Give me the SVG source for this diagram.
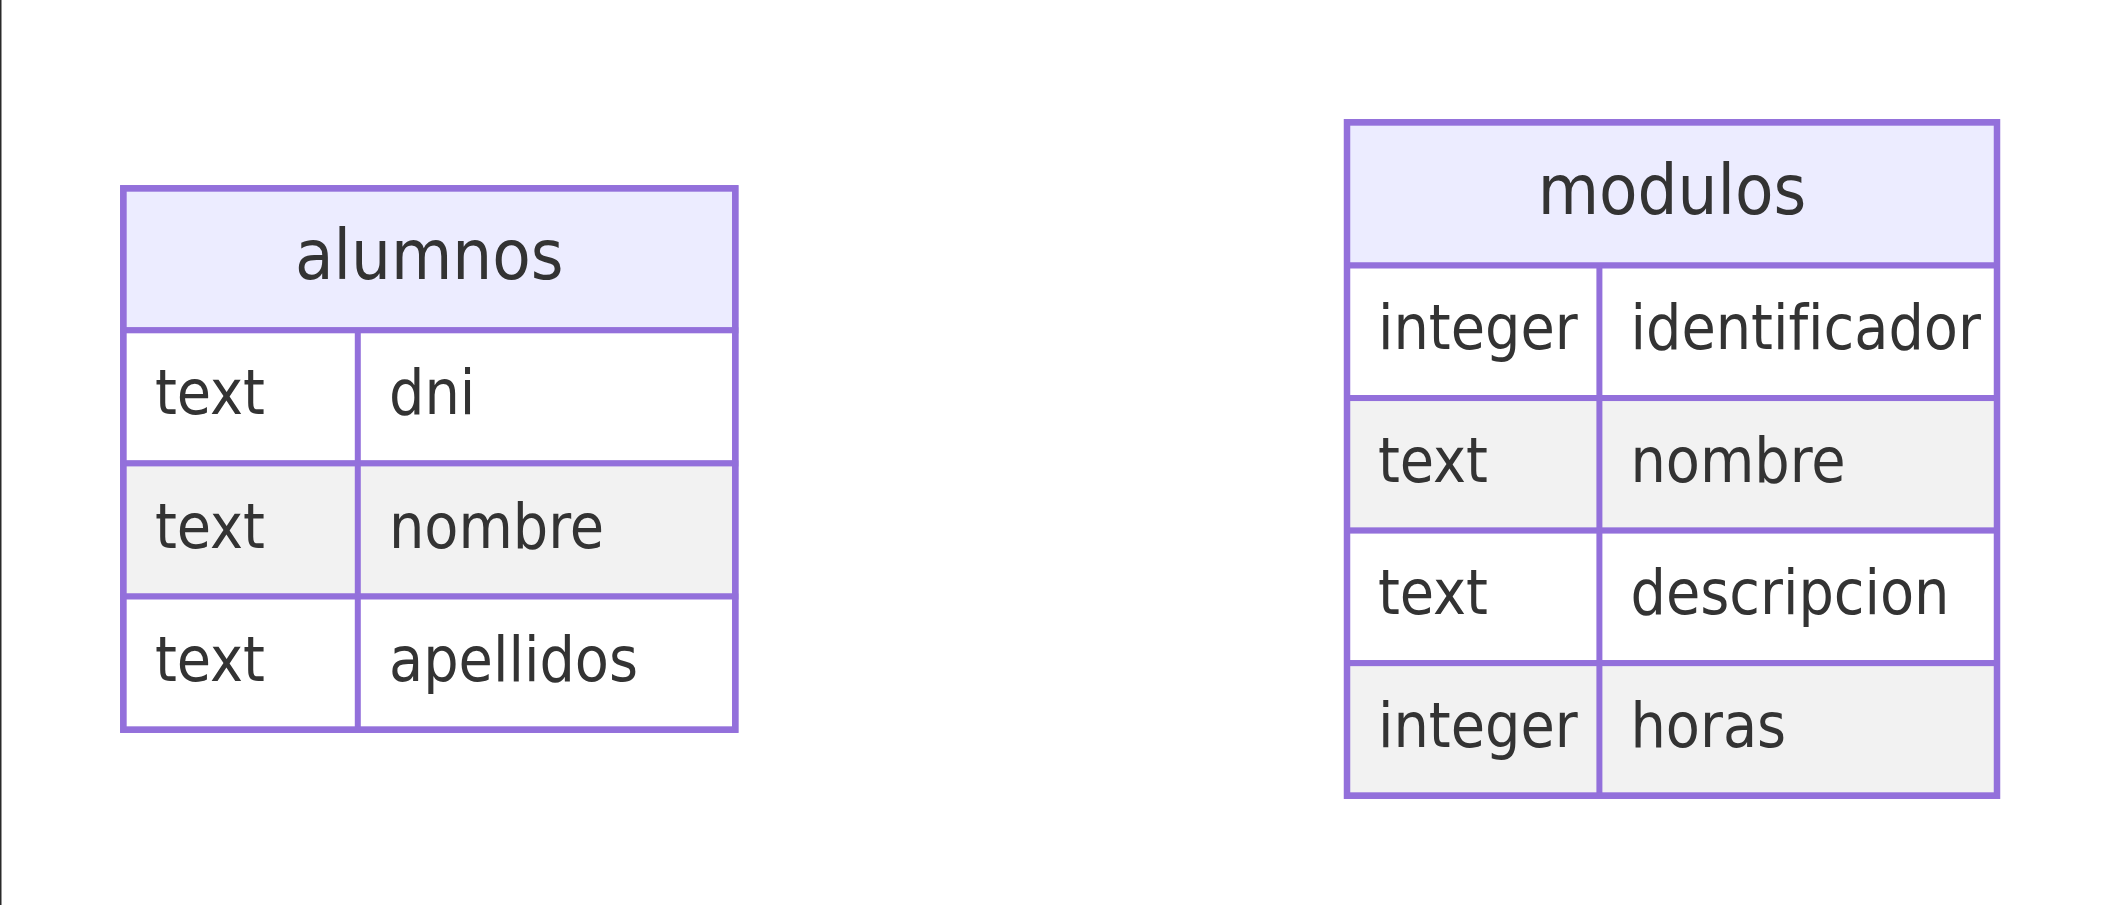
<svg xmlns="http://www.w3.org/2000/svg" width="2112" height="905" viewBox="0 0 2112 905">
<style>
.bg{fill:#ffffff}
.hdr{fill:#ECECFF;stroke:#9370DB;stroke-width:6}
.odd{fill:#ffffff;stroke:#9370DB;stroke-width:6}
.even{fill:#F2F2F2;stroke:#9370DB;stroke-width:6}
.div{stroke:#9370DB;stroke-width:6}
.outer{fill:none;stroke:#9370DB;stroke-width:6.5}
.t{font-family:"DejaVu Sans Condensed","DejaVu Sans",sans-serif;font-stretch:condensed;fill:#333333;font-variant-ligatures:none}
.h{font-size:70px;text-anchor:middle}
.a{font-size:62px}
</style>
<rect class="bg" x="0" y="0" width="2112" height="905"/>
<rect x="0" y="0" width="1.5" height="905" fill="#2a2a2a"/>
<g id="connectors"></g>
<g id="alumnos">
<rect class="hdr" x="123.3" y="188.3" width="612" height="142"/>
<rect class="odd" x="123.3" y="330.3" width="612" height="133.1"/>
<rect class="even" x="123.3" y="463.4" width="612" height="133.1"/>
<rect class="odd" x="123.3" y="596.5" width="612" height="133.2"/>
<line class="div" x1="357.8" y1="330.3" x2="357.8" y2="729.7"/>
<rect class="outer" x="123.3" y="188.3" width="612" height="541.4"/>
<text class="t h" x="429.3" y="279">alumnos</text>
<text class="t a" x="155" y="414.4">text</text>
<text class="t a" x="389" y="414.4">dni</text>
<text class="t a" x="155" y="547.5">text</text>
<text class="t a" x="389" y="547.5">nombre</text>
<text class="t a" x="155" y="680.6">text</text>
<text class="t a" x="389" y="680.6">apellidos</text>
</g>
<g id="modulos">
<rect class="hdr" x="1347" y="122.3" width="650" height="143.2"/>
<rect class="odd" x="1347" y="265.5" width="650" height="132.55"/>
<rect class="even" x="1347" y="398.05" width="650" height="132.55"/>
<rect class="odd" x="1347" y="530.6" width="650" height="132.55"/>
<rect class="even" x="1347" y="663.15" width="650" height="132.55"/>
<line class="div" x1="1599.4" y1="265.5" x2="1599.4" y2="795.7"/>
<rect class="outer" x="1347" y="122.3" width="650" height="673.4"/>
<text class="t h" x="1672" y="213.5">modulos</text>
<text class="t a" x="1378" y="349.3">integer</text>
<text class="t a" x="1630.5" y="349.3">identificador</text>
<text class="t a" x="1378" y="481.8">text</text>
<text class="t a" x="1630.5" y="481.8">nombre</text>
<text class="t a" x="1378" y="614.4">text</text>
<text class="t a" x="1630.5" y="614.4">descripcion</text>
<text class="t a" x="1378" y="746.9">integer</text>
<text class="t a" x="1630.5" y="746.9">horas</text>
</g>
</svg>
